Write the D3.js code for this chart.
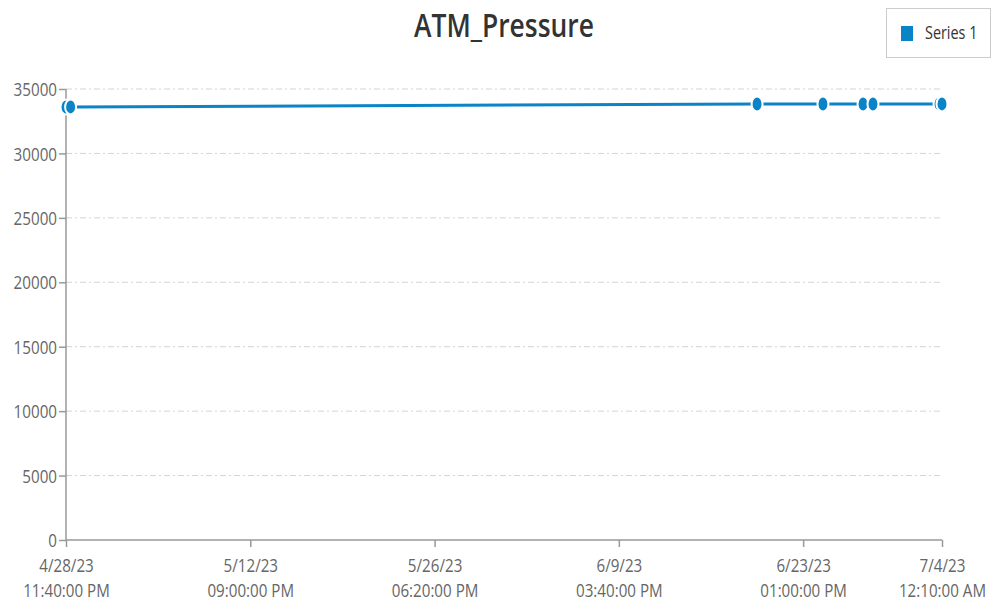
<!DOCTYPE html>
<html><head><meta charset="utf-8">
<script src="https://cdn.jsdelivr.net/npm/d3@7"></script>
<style>
body{margin:0;background:#fff;}
svg{display:block;font-family:"Open Sans",sans-serif;}
</style></head><body>
<svg id="c" width="996" height="603"></svg>
<script>
const title = "ATM_Pressure";
const seriesName = "Series 1";
const times = ["2023-04-28T23:40","2023-04-29T08:00","2023-06-20T01:40","2023-06-25T00:50","2023-06-28T01:20","2023-06-28T19:20","2023-07-03T18:50","2023-07-04T00:10"];
const values = [33600,33610,33830,33835,33840,33840,33845,33845];
const xTicks = ["2023-04-28T23:40","2023-05-12T21:00","2023-05-26T18:20","2023-06-09T15:40","2023-06-23T13:00","2023-07-04T00:10"];
const yTicks = [0,5000,10000,15000,20000,25000,30000,35000];

(function(){
const parse = d3.timeParse("%Y-%m-%dT%H:%M");
const data = times.map((t,i)=>({t:parse(t), v:values[i]}));
const svg = d3.select("#c");
const mL=66, mR=942, mT=89, mB=540;
const x = d3.scaleTime().domain([parse(xTicks[0]), parse(xTicks[xTicks.length-1])]).range([mL,mR]);
const y = d3.scaleLinear().domain([0,35000]).range([mB,mT]);
const color="#0a84c6";
const sx = 0.82;

svg.append("g").attr("transform",`translate(504,37) scale(0.8,1)`)
  .append("text").attr("text-anchor","middle")
  .attr("font-size",33).attr("font-weight",600).attr("fill","#333").text(title);

svg.append("g").selectAll("line").data(yTicks.filter(d=>d>0)).join("line")
  .attr("x1",mL).attr("x2",mR).attr("y1",d=>y(d)).attr("y2",d=>y(d))
  .attr("stroke","#d4d4d4").attr("stroke-width",1).attr("stroke-dasharray","6,3,2,3");

const fmt1 = d3.timeFormat("%-m/%-d/%y"), fmt2 = d3.timeFormat("%I:%M:%S %p");
const xAxis = svg.append("g").attr("transform",`translate(0,${mB})`)
  .call(d3.axisBottom(x).tickValues(xTicks.map(parse)).tickSize(7).tickFormat(""));
xAxis.selectAll(".tick text").remove();
xAxis.selectAll(".tick").each(function(d){
  const g=d3.select(this).append("g").attr("transform",`scale(${sx},1)`);
  g.append("text").attr("y",32).attr("text-anchor","middle").attr("fill","#666").attr("font-size",18.5).text(fmt1(d));
  g.append("text").attr("y",57).attr("text-anchor","middle").attr("fill","#666").attr("font-size",18.5).text(fmt2(d));
});
const yAxis = svg.append("g").attr("transform",`translate(${mL},0)`)
  .call(d3.axisLeft(y).tickValues(yTicks).tickSize(7).tickFormat(d3.format("d")));
[xAxis,yAxis].forEach(a=>{
  a.select(".domain").attr("stroke","#999").attr("stroke-width",1.5);
  a.selectAll(".tick line").attr("stroke","#999").attr("stroke-width",1.5);
  a.attr("font-family",null);
});
yAxis.selectAll(".tick text").attr("fill","#666").attr("font-size",19).attr("dy","0.35em")
  .attr("x",-9/0.8).attr("transform","scale(0.8,1)");
xAxis.select(".domain").attr("d",`M${mL},0H${mR}`);
yAxis.select(".domain").attr("d",`M0,${mT}V${mB}`);

const line = d3.line().x(d=>x(d.t)).y(d=>y(d.v));
svg.append("path").datum(data).attr("d",line).attr("fill","none").attr("stroke",color).attr("stroke-width",3);
svg.append("g").selectAll("ellipse").data(data).join("ellipse")
  .attr("cx",d=>x(d.t)).attr("cy",d=>y(d.v)).attr("rx",5.5).attr("ry",7.5)
  .attr("fill",color).attr("stroke","#fff").attr("stroke-width",2);

const lg = svg.append("g");
lg.append("rect").attr("x",886.5).attr("y",8.5).attr("width",104).attr("height",49).attr("fill","#fff").attr("stroke","#ccc");
lg.append("rect").attr("x",901).attr("y",26).attr("width",12).attr("height",15).attr("fill",color);
lg.append("g").attr("transform","translate(925,39) scale(0.8,1)")
  .append("text").attr("font-size",18).attr("fill","#333").text(seriesName);
})();
</script></body></html>
